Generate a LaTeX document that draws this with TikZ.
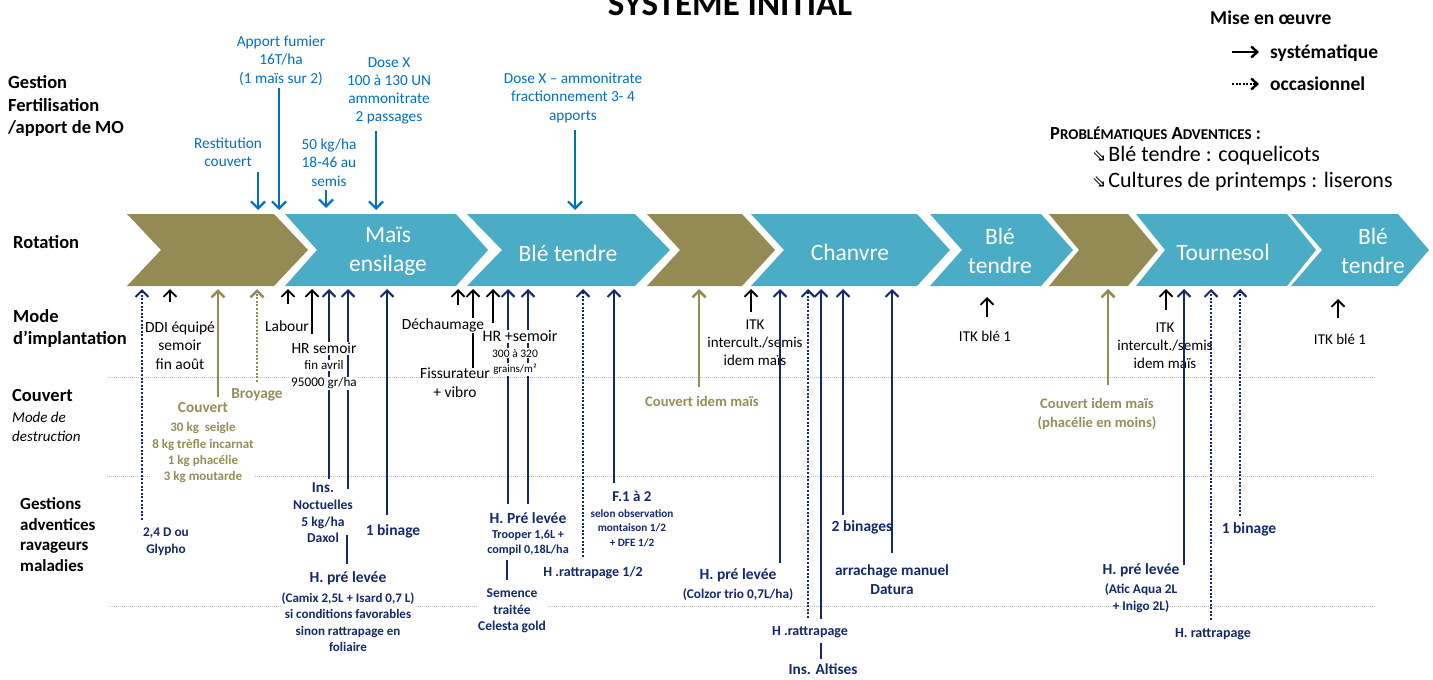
\documentclass[tikz,border=0pt]{standalone}
\usepackage{fontspec}
\setmainfont{Carlito}
\newfontfamily\djv{DejaVu Sans}
\usetikzlibrary{arrows.meta}
\definecolor{olv}{HTML}{948A54}
\definecolor{olvt}{HTML}{978D59}
\definecolor{aqua}{HTML}{4BACC6}
\definecolor{navy}{HTML}{13296B}
\definecolor{fblue}{HTML}{0070C0}
\definecolor{gridc}{HTML}{BDBDBD}
\newcommand\fs[2]{\fontsize{#1}{#2}\selectfont}
% vertical connector between two named coordinates
\newcommand\vconn[5]{\coordinate (#1s) at (#3,#4); \coordinate (#1e) at (#3,#5); \draw[#2] (#1s) -- (#1e);}
\newcommand\hconn[5]{\coordinate (#1s) at (#4,#3); \coordinate (#1e) at (#5,#3); \draw[#2] (#1s) -- (#1e);}
\tikzset{
  T/.style 2 args={anchor=north, inner sep=0pt, align=center, yshift={0.35*#1}, font=\fs{#1}{#2}},
  B/.style 2 args={anchor=north, inner sep=0pt, align=center, yshift={0.35*#1}, font=\bfseries\fs{#1}{#2}},
  upbase/.style={line width=1.8pt, -{Straight Barb[length=6.5pt,width=13pt]}},
  kk/.style={upbase, black},
  nn/.style={upbase, navy, line width=2pt},
  nd/.style={nn, dash pattern=on 2pt off 1.6pt},
  oo/.style={upbase, olv, line width=2.6pt},
  od/.style={oo, dash pattern=on 2pt off 1.6pt},
  fa/.style={fblue, line width=2.2pt, -{Straight Barb[length=7pt,width=14pt]}},
  nl/.style={navy, line width=2pt},
  legk/.style={black, line width=2.4pt, -{Straight Barb[length=6pt,width=11pt]}},
  legd/.style={legk, dash pattern=on 2pt off 1.5pt},
  gridl/.style={gridc, line width=0.8pt, dash pattern=on 1pt off 1pt},
  ctext/.style={text=white, align=center, inner sep=0pt, font=\fs{23.5}{29}},
  wh/.style={fill=white, inner sep=1pt}
}
\begin{document}
\begin{tikzpicture}[x=1pt,y=-1pt]
\useasboundingbox (0,0) rectangle (1433,680);
\fill[white] (0,0) rectangle (1433,680);

% grid lines
\hconn{g1}{gridl}{377}{108}{1375}
\hconn{g2}{gridl}{476}{107}{1375}
\hconn{g3}{gridl}{606}{110}{1375}

% title (cut at top, as in the reference)
\node[font=\bfseries\fs{35}{40}, anchor=base, inner sep=0pt] (title) at (730,16) {SYSTEME INITIAL};

% chevrons
\fill[olv]  (127,214) -- (274,214) -- (308,250) -- (274,286) -- (127,286) -- (161,250) -- cycle;
\fill[aqua] (285,214) -- (456,214) -- (488,250) -- (456,286) -- (285,286) -- (317,250) -- cycle;
\fill[aqua] (467,214) -- (635,214) -- (670,250) -- (635,286) -- (467,286) -- (502,250) -- cycle;
\fill[olv]  (647,214) -- (742,214) -- (775,250) -- (742,286) -- (647,286) -- (680,250) -- cycle;
\fill[aqua] (751,214) -- (917,214) -- (950,250) -- (917,286) -- (751,286) -- (784,250) -- cycle;
\fill[aqua] (930,214) -- (1041,214) -- (1073,250) -- (1041,286) -- (930,286) -- (962,250) -- cycle;
\fill[olv]  (1049,214) -- (1128,214) -- (1158,250) -- (1128,286) -- (1049,286) -- (1079,250) -- cycle;
\fill[aqua] (1136,214) -- (1287,214) -- (1316,250) -- (1287,286) -- (1136,286) -- (1165,250) -- cycle;
\fill[aqua] (1291,214) -- (1398,214) -- (1429,250) -- (1398,286) -- (1291,286) -- (1322,250) -- cycle;
\node[ctext] (c2) at (388,251) {Maïs\\ensilage};
\node[ctext] (c3) at (568,253) {Blé tendre};
\node[ctext] (c5) at (850,252) {Chanvre};
\node[ctext] (c6) at (1000,251) {Blé\\tendre};
\node[ctext] (c8) at (1223,252) {Tournesol};
\node[ctext] (c9) at (1373,251) {Blé\\tendre};

% left labels
\node[B={18.5}{22.5}, anchor=north west, align=left] (lg) at (8,82) {Gestion\\Fertilisation\\/apport de MO};
\node[B={18.5}{22.5}, anchor=north west, align=left] (lrot) at (13,242) {Rotation};
\node[B={18.5}{22}, anchor=north west, align=left] (lmode) at (13,316) {Mode\\d’implantation};
\node[B={18.5}{22}, anchor=north west, align=left] (lcouv) at (12,396) {Couvert};
\node[T={15}{19.5}, anchor=north west, align=left, font=\itshape\fs{15}{19.5}] (lmd) at (12,417) {Mode de\\destruction};
\node[B={17}{20.8}, anchor=north west, align=left] (lgest) at (20,503) {Gestions\\adventices\\ravageurs\\maladies};

% legend
\node[B={19.5}{23}, anchor=north west] (mise) at (1210,17) {Mise en œuvre};
\node[B={19.5}{23}, anchor=north west] (sys) at (1270,51) {systématique};
\node[B={19.5}{23}, anchor=north west] (occ) at (1270,83) {occasionnel};
\hconn{lg1}{legk}{52}{1232}{1259}
\hconn{lg2}{legd}{84}{1232}{1259}
\node[B={18.5}{22}, anchor=north west] (prob) at (1050,133) {P{\fs{15}{18}ROBLÉMATIQUES} A{\fs{15}{18}DVENTICES} :};
\node[T={22}{26}, anchor=north west] (pb1) at (1092,154) {{\djv\fs{17}{18}⇘}\hspace{2pt}Blé tendre : coquelicots};
\node[T={22}{26}, anchor=north west] (pb2) at (1092,180) {{\djv\fs{17}{18}⇘}\hspace{2pt}Cultures de printemps : liserons};

% fertilisation
\node[T={15.3}{18.5}, text=fblue] (apport) at (281,41) {Apport fumier\\16T/ha\\(1 maïs sur 2)};
\node[T={15.3}{18.5}, text=fblue] (restit) at (228,143) {Restitution\\couvert};
\node[T={15.3}{18}, text=fblue] (dose1) at (389,63) {Dose X\\100 à 130 UN\\ammonitrate\\2 passages};
\node[T={15.3}{18.5}, text=fblue] (kg50) at (329,144) {50 kg/ha\\18-46 au\\semis};
\node[T={15.3}{18.5}, text=fblue] (dose2) at (573,78) {Dose X – ammonitrate\\fractionnement 3- 4\\apports};
\vconn{f1}{fa}{258}{172}{210}
\vconn{f2}{fa}{279}{88}{210}
\vconn{f3}{fa}{326}{190}{208}
\vconn{f4}{fa}{376}{131}{210}
\vconn{f5}{fa}{575}{130}{210}

% implantation texts (black)
\node[T={15.5}{18.5}] (ddi) at (180,327) {DDI équipé\\semoir\\fin août};
\node[T={15.5}{18.5}] (labour) at (287,326) {Labour};
\node[T={15.5}{19}] (fiss) at (455,373) {Fissurateur\\+ vibro};
\node[T={15}{18}] (itk1) at (755,325) {ITK\\intercult./semis\\idem maïs};
\node[T={15}{18}] (itkb1) at (985,336) {ITK blé 1};
\node[T={15}{18}] (itk2) at (1165,328) {ITK\\intercult./semis\\idem maïs};
\node[T={15}{18}] (itkb2) at (1340,339) {ITK blé 1};

% couvert texts (olive)
\node[B={15.3}{17}, text=olvt] (couv) at (203,408) {Couvert};
\node[B={13}{16.4}, text=olvt, wh] (couv2) at (203,426) {30 kg\ \ seigle\\8 kg trèfle incarnat\\1 kg phacélie\\3 kg moutarde};
\node[B={15.3}{17}, text=olvt] (broy) at (257,394) {Broyage};
\node[B={14.6}{19}, text=olvt] (cim1) at (702,401) {Couvert idem maïs};
\node[B={14.6}{19}, text=olvt] (cim2) at (1097,403) {Couvert idem maïs\\(phacélie en moins)};

% adventices texts (navy)
\node[B={13.3}{17}, text=navy] (gly) at (166,532) {2,4 D ou\\Glypho};
\node[B={15}{17}, text=navy] (ins) at (323,488) {Ins.};
\node[B={13.6}{16.5}, text=navy] (ins2) at (323,505) {Noctuelles\\5 kg/ha\\Daxol};
\node[B={15.5}{18}, text=navy] (hpl1) at (348,577) {H. pré levée};
\node[B={13}{16.4}, text=navy, wh] (hpl1b) at (348,596) {(Camix 2,5L + Isard 0,7 L)\\si conditions favorables\\sinon rattrapage en\\foliaire};
\node[B={15.5}{18}, text=navy] (bin1) at (393,530) {1 binage};
\node[B={15.5}{18}, text=navy] (hpl2) at (528,518) {H. Pré levée};
\node[B={12.2}{15}, text=navy] (hpl2b) at (528,534) {Trooper 1,6L +\\compil 0,18L/ha};
\node[B={13.5}{16.8}, text=navy, wh] (sem) at (512,592) {Semence\\traitée\\Celesta gold};
\node[B={14}{17}, text=navy] (hr12) at (593,571) {H .rattrapage 1/2};
\node[B={15}{17}, text=navy] (f12) at (632,496) {F.1 à 2};
\node[B={11.2}{14.5}, text=navy] (f12b) at (632,513) {selon observation\\montaison 1/2\\+ DFE 1/2};
\node[B={15.5}{18}, text=navy] (hpl3) at (738,574) {H. pré levée};
\node[B={13.3}{16}, text=navy] (hpl3b) at (738,593) {(Colzor trio 0,7L/ha)};
\node[B={14}{17}, text=navy] (hr2) at (810,631) {H .rattrapage};
\node[B={15.3}{17}, text=navy] (alt) at (823,669) {Ins. Altises};
\node[B={15.5}{18}, text=navy] (bin2) at (862,526) {2 binages};
\node[B={15.3}{18.5}, text=navy] (arr) at (892,570) {arrachage manuel\\Datura};
\node[B={15.5}{18}, text=navy] (hpl4) at (1141,569) {H. pré levée};
\node[B={13.3}{17}, text=navy] (hpl4b) at (1141,588) {(Atic Aqua 2L\\+ Inigo 2L)};
\node[B={14}{17}, text=navy] (hr3) at (1213,633) {H. rattrapage};
\node[B={15.5}{18}, text=navy] (bin3) at (1249,528) {1 binage};

% upward arrows
\vconn{k1}{kk}{170}{302}{289}
\vconn{k2}{kk}{288}{304}{289}
\vconn{k3}{kk}{312}{334}{289}
\vconn{k4}{kk}{458}{305}{289}
\vconn{k5}{kk}{473}{368}{289}
\vconn{k6}{kk}{493}{323}{289}
\vconn{k7}{kk}{751}{312}{289}
\vconn{k8}{kk}{987}{317}{297}
\vconn{k9}{kk}{1166}{310}{289}
\vconn{k10}{kk}{1338}{318}{299}

\vconn{n1}{nn}{329}{479}{289}
\vconn{n2}{nn}{348}{489}{289}
\vconn{n3}{nn}{387}{515}{289}
\vconn{n4}{nn}{508}{504}{289}
\vconn{n5}{nn}{528}{504}{289}
\vconn{n6}{nn}{614}{483}{289}
\vconn{n7}{nn}{780}{563}{289}
\vconn{n8}{nn}{821}{619}{289}
\vconn{n9}{nn}{843}{515}{289}
\vconn{n10}{nn}{892}{553}{289}
\vconn{n11}{nn}{1184}{565}{289}

\vconn{d1}{nd}{142}{520}{289}
\vconn{d2}{nd}{583}{557}{289}
\vconn{d3}{nd}{808}{618}{289}
\vconn{d4}{nd}{1211}{620}{289}
\vconn{d5}{nd}{1240}{516}{289}

\vconn{o1}{oo}{218}{397}{289}
\vconn{o2}{oo}{699}{387}{289}
\vconn{o3}{oo}{1108}{385}{289}
\vconn{od1}{od}{257}{382}{289}

\vconn{l1}{nl}{347}{535}{564}
\vconn{l2}{nl}{507}{560}{580}
\vconn{l3}{nl}{821}{643}{659}

% texts that mask the lines behind them
\node[T={15.5}{18.5}, wh] (hrs) at (324,347) {HR semoir};
\node[T={13}{15}, wh] (hrs2) at (324,364) {fin avril};
\node[T={13.2}{15}, wh] (hrs3) at (324,381) {95000 gr/ha};
\node[T={15.5}{18.5}, wh] (dech) at (443,323) {Déchaumage};
\node[T={16}{18}, wh] (hrp) at (520,335) {HR +semoir};
\node[T={11.5}{13}, wh] (hrp2) at (515,352) {300 à 320};
\node[T={11}{13}, wh] (hrp3) at (515,367) {grains/m²};
\end{tikzpicture}
\end{document}
